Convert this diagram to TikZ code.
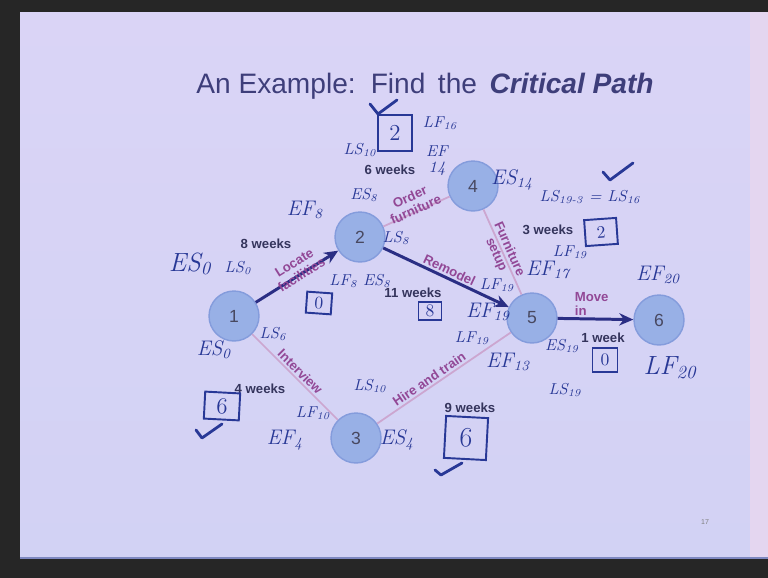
\documentclass[tikz,border=0pt]{standalone}
\usepackage{fontspec}
\newfontfamily\slidefont{Liberation Sans}
\usetikzlibrary{arrows.meta}

\definecolor{slidetop}{RGB}{218,212,246}
\definecolor{slidebot}{RGB}{210,210,244}
\definecolor{rimpink}{RGB}{228,214,240}
\definecolor{titleblue}{RGB}{62,62,122}
\definecolor{nodefill}{RGB}{152,176,230}
\definecolor{nodeline}{RGB}{132,156,220}
\definecolor{nodetext}{RGB}{72,72,96}
\definecolor{critblue}{RGB}{42,46,132}
\definecolor{pinkline}{RGB}{204,166,208}
\definecolor{labpurple}{RGB}{146,72,150}
\definecolor{durgrey}{RGB}{52,52,92}
\definecolor{ink}{RGB}{40,56,150}

\begin{document}
\begin{tikzpicture}[x=0.02cm, y=-0.02cm,
    event/.style={circle, fill=nodefill, draw=nodeline, line width=0.8pt, minimum size=1cm,
      text=nodetext, font=\slidefont\fontsize{10}{10}\selectfont},
    crit/.style={-{Stealth[length=8pt,width=7pt]}, line width=1.7pt, draw=critblue},
    minor/.style={line width=1pt, draw=pinkline},
    elab/.style={text=labpurple, font=\slidefont\bfseries\fontsize{7.5}{8}\selectfont,
      inner sep=1pt, align=center},
    dur/.style={text=durgrey, font=\slidefont\bfseries\fontsize{7.5}{8}\selectfont},
    handnote/.style={text=ink, font=\itshape\fontsize{9}{9}\selectfont, inner sep=0pt},
    handmid/.style={text=ink, font=\itshape\fontsize{12}{12}\selectfont, inner sep=0pt},
    handbig/.style={text=ink, font=\itshape\fontsize{15}{15}\selectfont, inner sep=0pt},
    slack/.style={draw=ink, line width=1.1pt, text=ink, font=\fontsize{10}{10}\selectfont,
      minimum width=0.5cm, minimum height=0.42cm, inner sep=0pt},
    checkmark/.style={draw=ink, line width=1.6pt, line cap=round, line join=round}]
\useasboundingbox (0,0) rectangle (768,578);
% photographed slide and its dark rim
\fill[black!85] (0,0) rectangle (768,578);
\shade[top color=slidetop, bottom color=slidebot] (20,12) rectangle (750,557);
\fill[rimpink] (750,12) rectangle (768,557);
\draw[ink!60, line width=1pt] (20,558) -- (768,558);
\node[text=titleblue, font=\slidefont\fontsize{16}{16}\selectfont, anchor=base] (title) at (425,93)
  {An Example:\, Find\, the\, \textbf{\textit{Critical Path}}};
\node[text=gray, font=\slidefont\fontsize{4}{4}\selectfont] (pageno) at (705,522) {17};

% events
\node[event] (n1) at (234,316) {1};
\node[event] (n2) at (360,237) {2};
\node[event] (n3) at (356,438) {3};
\node[event] (n4) at (473,186) {4};
\node[event] (n5) at (532,318) {5};
\node[event] (n6) at (659,320) {6};

% activities
\draw[crit] (n1) -- node[elab, sloped, above=-5pt, pos=.55] {Locate\\facilities} (n2);
\draw[minor] (n2) -- node[elab, sloped, above=-3pt] {Order\\furniture} (n4);
\draw[crit] (n2) -- node[elab, sloped, above] {Remodel} (n5);
\draw[minor] (n4) -- node[elab, sloped] {Furniture\\setup} (n5);
\draw[minor] (n1) -- node[elab, sloped, above] {Interview} (n3);
\draw[minor] (n3) -- node[elab, sloped, above, pos=.42] {Hire and train} (n5);
\draw[crit] (n5) -- node[elab, above, align=left, pos=.45] {Move\\in} (n6);

% durations
\node[dur] (d12) at (266,244) {8 weeks};
\node[dur] (d24) at (390,170) {6 weeks};
\node[dur] (d25) at (413,293) {11 weeks};
\node[dur] (d45) at (548,230) {3 weeks};
\node[dur] (d13) at (260,389) {4 weeks};
\node[dur] (d35) at (470,408) {9 weeks};
\node[dur] (d56) at (603,338) {1 week};

% handwritten times
\node[handbig] (es1) at (190,264) {ES\textsubscript{0}};
\node[handnote] (ls1) at (238,268) {LS\textsubscript{0}};
\node[handmid] (es1b) at (214,350) {ES\textsubscript{0}};
\node[handnote] (ls13) at (273,334) {LS\textsubscript{6}};
\node[handmid] (ef2) at (305,210) {EF\textsubscript{8}};
\node[handnote] (es2) at (364,195) {ES\textsubscript{8}};
\node[handnote] (ls25) at (396,238) {LS\textsubscript{8}};
\node[handnote] (lf2) at (360,281) {LF\textsubscript{8} ES\textsubscript{8}};
\node[handnote] (ls24) at (360,150) {LS\textsubscript{10}};
\node[handnote] (lf24) at (440,123) {LF\textsubscript{16}};
\node[handnote, align=center] (ef24) at (437,161) {EF\\14};
\node[handmid] (es4) at (512,180) {ES\textsubscript{14}};
\node[handnote] (ls45) at (590,197) {LS\textsubscript{19-3} = LS\textsubscript{16}};
\node[handnote] (lf45) at (570,252) {LF\textsubscript{19}};
\node[handmid] (ef45) at (548,270) {EF\textsubscript{17}};
\node[handnote] (lf25) at (497,285) {LF\textsubscript{19}};
\node[handmid] (ef25) at (488,312) {EF\textsubscript{19}};
\node[handnote] (lf35) at (472,338) {LF\textsubscript{19}};
\node[handmid] (ef35) at (508,362) {EF\textsubscript{13}};
\node[handnote] (es5) at (562,346) {ES\textsubscript{19}};
\node[handnote] (ls5) at (565,390) {LS\textsubscript{19}};
\node[handmid] (ef6) at (658,275) {EF\textsubscript{20}};
\node[handbig] (lf6) at (670,368) {LF\textsubscript{20}};
\node[handnote] (ls3) at (370,386) {LS\textsubscript{10}};
\node[handnote] (lf13) at (313,413) {LF\textsubscript{10}};
\node[handmid] (ef13) at (285,440) {EF\textsubscript{4}};
\node[handmid] (es3) at (397,440) {ES\textsubscript{4}};

% slack boxes and ticks
\node[slack, rotate=-4] (s12) at (319,303) {0};
\node[slack, minimum width=0.68cm, minimum height=0.72cm, font=\fontsize{13}{13}\selectfont] (s24) at (395,133) {2};
\node[slack, minimum width=0.64cm, minimum height=0.52cm, rotate=4] (s45) at (601,232) {2};
\node[slack, minimum width=0.46cm, minimum height=0.36cm] (s25) at (430,311) {8};
\node[slack, minimum width=0.5cm, minimum height=0.48cm] (s56) at (605,360) {0};
\node[slack, minimum width=0.7cm, minimum height=0.54cm, font=\fontsize{13}{13}\selectfont, rotate=-3] (s13) at (222,406) {6};
\node[slack, minimum width=0.84cm, minimum height=0.84cm, font=\fontsize{16}{16}\selectfont, rotate=-3] (s35) at (466,438) {6};
\draw[checkmark] (370,104) -- (378,114) -- (397,100);
\draw[checkmark] (603,172) -- (610,180) -- (633,163);
\draw[checkmark] (196,430) -- (202,438) -- (222,424);
\draw[checkmark] (435,470) -- (441,475) -- (462,463);
\end{tikzpicture}
\end{document}
